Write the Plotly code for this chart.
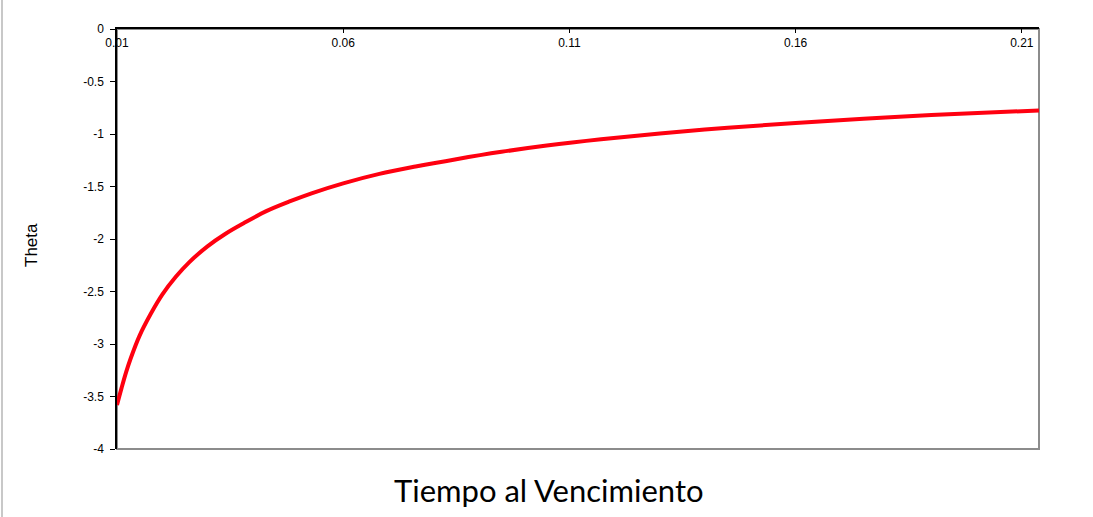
import plotly.graph_objects as go

# Data
tiempo = [0.0100, 0.0110, 0.0120, 0.0130, 0.0150, 0.0175, 0.0200, 0.0230, 0.0260, 0.0300,
          0.0340, 0.0380, 0.0430, 0.0480, 0.0530, 0.0600, 0.0680, 0.0760, 0.0850, 0.0950,
          0.1050, 0.1170, 0.1300, 0.1450, 0.1600, 0.1750, 0.1900, 0.2138]
theta = [-3.58, -3.42, -3.27, -3.14, -2.92, -2.71, -2.53, -2.36, -2.22, -2.07,
         -1.95, -1.85, -1.735, -1.645, -1.565, -1.47, -1.38, -1.31, -1.24, -1.17,
         -1.11, -1.05, -0.995, -0.94, -0.895, -0.855, -0.82, -0.775]

x_tickvals = [0.01, 0.06, 0.11, 0.16, 0.21]
x_ticktext = ["0.01", "0.06", "0.11", "0.16", "0.21"]
y_tickvals = [0, -0.5, -1, -1.5, -2, -2.5, -3, -3.5, -4]
y_ticktext = ["0", "-0.5", "-1", "-1.5", "-2", "-2.5", "-3", "-3.5", "-4"]

fig = go.Figure()
fig.add_trace(go.Scatter(
    x=tiempo, y=theta, mode="lines",
    line=dict(color="#FF0010", width=4, shape="spline", smoothing=1.0),
    showlegend=False, hoverinfo="x+y",
))

tick_font = dict(family="Liberation Sans, Arial, sans-serif", size=12, color="#000000")

fig.update_layout(
    width=1093, height=517,
    margin=dict(l=117, r=54, t=29, b=68),
    paper_bgcolor="white", plot_bgcolor="white",
    xaxis=dict(
        range=[0.01, 0.2138], side="top",
        tickvals=x_tickvals, ticktext=x_ticktext,
        ticks="inside", ticklen=4, tickcolor="#000000", tickwidth=1,
        ticklabelposition="inside", ticklabeloverflow="allow", ticklabelstandoff=5,
        tickfont=tick_font,
        showgrid=False, zeroline=False,
        showline=True, linecolor="#000000", linewidth=1.5,
    ),
    yaxis=dict(
        range=[-4, 0],
        tickvals=y_tickvals, ticktext=y_ticktext,
        ticks="outside", ticklen=5, tickcolor="#000000", tickwidth=1,
        ticklabeloverflow="allow", ticklabelstandoff=4, tickfont=tick_font,
        showgrid=False, zeroline=False,
        showline=True, linecolor="#000000", linewidth=1.5,
    ),
    shapes=[
        dict(type="rect", xref="paper", yref="paper", x0=0, x1=1, y0=0, y1=1,
             line=dict(color="#8C8C8C", width=2), layer="below"),
        dict(type="line", xref="paper", yref="paper", x0=(2 - 117) / 922, x1=(2 - 117) / 922,
             y0=-68 / 420, y1=1 + 29 / 420, line=dict(color="#C8C8C8", width=2)),
    ],
    annotations=[
        dict(text="Theta", xref="paper", yref="paper", x=(32 - 117) / 922,
             y=1 - (245 - 29) / 420, textangle=-90, showarrow=False,
             xanchor="center", yanchor="middle",
             font=dict(family="Liberation Sans, Arial, sans-serif", size=17, color="#000000")),
        dict(text="Tiempo al Vencimiento", xref="paper", yref="paper",
             x=(549 - 117) / 922, y=-(490 - 449) / 420, showarrow=False,
             xanchor="center", yanchor="middle",
             font=dict(family="Lato, Open Sans, sans-serif", size=31, color="#000000")),
    ],
)

fig.write_html("out.html", config={"displayModeBar": False},
               post_script="document.body.style.margin='0';")
